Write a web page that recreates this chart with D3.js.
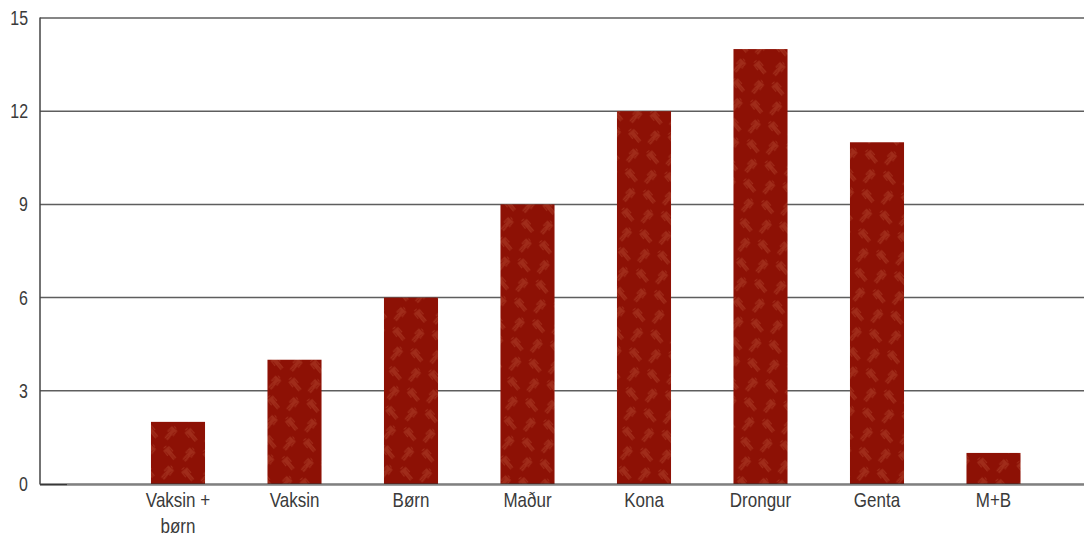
<!DOCTYPE html>
<html>
<head>
<meta charset="utf-8">
<script src="https://cdn.jsdelivr.net/npm/d3@7"></script>
<style>
  body { margin: 0; background: #fff; }
  text { font-family: "Liberation Sans", Arial, sans-serif; fill: #3a3a3a; }
</style>
</head>
<body>
<svg id="vis"></svg>
<script>
const WIDTH = 1084;
const HEIGHT = 538;

// data
const categories = ["Vaksin + børn", "Vaksin", "Børn", "Maður", "Kona", "Drongur", "Genta", "M+B"];
const labelLines = [["Vaksin +", "børn"], ["Vaksin"], ["Børn"], ["Maður"], ["Kona"], ["Drongur"], ["Genta"], ["M+B"]];
const values = [2, 4, 6, 9, 12, 14, 11, 1];
const yTicks = [0, 3, 6, 9, 12, 15];

const svg = d3.select("#vis").attr("width", WIDTH).attr("height", HEIGHT);

const x = d3.scaleBand()
    .domain(categories)
    .range([119.75, 1051.75])
    .paddingInner(0.536)
    .paddingOuter(0.268);

const y = d3.scaleLinear().domain([0, 15]).range([484, 18]);

// pattern with little person figures
const defs = svg.append("defs");
const pat = defs.append("pattern")
    .attr("id", "people")
    .attr("patternUnits", "userSpaceOnUse")
    .attr("width", 28).attr("height", 28)
    .attr("patternTransform", "rotate(-40)");
pat.append("rect").attr("width", 28).attr("height", 28).attr("fill", "#8d1105");

function person(g, cx, cy, rot) {
    const p = g.append("g")
        .attr("transform", `translate(${cx},${cy}) rotate(${rot}) scale(1.25)`)
        .attr("fill", "#a02c1a");
    p.append("circle").attr("cx", 0).attr("cy", -6.5).attr("r", 1.6);
    p.append("path").attr("d",
        "M-3,-4.3 L3,-4.3 L3.2,1.2 L2.2,1.2 L2,-2.5 L1.6,-2.5 L1.6,6.5 L0.3,6.5 L0.2,1.6 L-0.2,1.6 L-0.3,6.5 L-1.6,6.5 L-1.6,-2.5 L-2,-2.5 L-2.2,1.2 L-3.2,1.2 Z");
}
person(pat, 7, 7.5, 0);
person(pat, 21, 21.5, 80);

// gridlines
svg.append("g")
    .selectAll("line")
    .data(yTicks.filter(d => d > 0))
    .join("line")
    .attr("x1", 40).attr("x2", WIDTH)
    .attr("y1", d => y(d)).attr("y2", d => y(d))
    .attr("stroke", "#5e5e5e")
    .attr("stroke-width", 1.5);

// bars
svg.append("g")
    .selectAll("rect")
    .data(values)
    .join("rect")
    .attr("x", (d, i) => x(categories[i]))
    .attr("width", x.bandwidth())
    .attr("y", d => y(d))
    .attr("height", d => y(0) - y(d))
    .attr("fill", "url(#people)");

// baseline
svg.append("line")
    .attr("x1", 67).attr("x2", WIDTH)
    .attr("y1", y(0) + 1.2).attr("y2", y(0) + 1.2)
    .attr("stroke", "#a0a0a0").attr("stroke-width", 1.5);
svg.append("line")
    .attr("x1", 40).attr("x2", WIDTH)
    .attr("y1", y(0)).attr("y2", y(0))
    .attr("stroke", "#333").attr("stroke-width", 1.2);
svg.append("line")
    .attr("x1", 40).attr("x2", 67)
    .attr("y1", y(0) + 0.8).attr("y2", y(0) + 0.8)
    .attr("stroke", "#333").attr("stroke-width", 1.5);

// left axis line
svg.append("line")
    .attr("x1", 40).attr("x2", 40)
    .attr("y1", y(15) - 0.5).attr("y2", y(0) + 0.5)
    .attr("stroke", "#444").attr("stroke-width", 1.5);

// y tick labels
svg.append("g")
    .selectAll("text")
    .data(yTicks)
    .join("text")
    .attr("transform", d => `translate(28,${y(d)}) scale(0.76,1)`)
    .attr("dy", "0.33em")
    .attr("text-anchor", "end")
    .style("font-size", "21px")
    .text(d => d);

// x labels
const xl = svg.append("g")
    .selectAll("text")
    .data(categories)
    .join("text")
    .attr("transform", d => `translate(${x(d) + x.bandwidth() / 2},507) scale(0.85,1)`)
    .attr("text-anchor", "middle")
    .style("font-size", "20px");
xl.selectAll("tspan")
    .data((d, i) => labelLines[i])
    .join("tspan")
    .attr("x", 0)
    .attr("dy", (d, i) => i === 0 ? 0 : 26)
    .text(d => d);
</script>
</body>
</html>
